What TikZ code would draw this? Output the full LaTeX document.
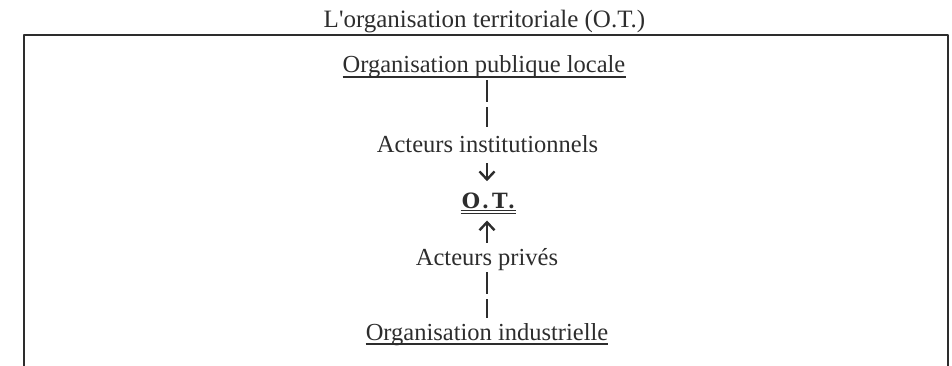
\documentclass[tikz,border=0pt]{standalone}
\usepackage{fontspec}
\setmainfont{Liberation Serif}
\newfontfamily\otfont[LetterSpace=14]{DejaVu Serif}
\usepackage{tikz}
\usetikzlibrary{calc}
\usetikzlibrary{arrows.meta}
\definecolor{ink}{RGB}{45,45,45}

\begin{document}
\begin{tikzpicture}[x=1pt, y=1pt, line join=bevel,
        txt/.style={inner sep=0pt, anchor=base, text=ink, font=\fontsize{24.5}{29}\selectfont},
        dashlink/.style={draw=ink, line width=2pt, dash pattern=on 22pt off 5pt},
        arrowlink/.style={draw=ink, line width=2.4pt, -{Straight Barb[length=8pt, width=15pt, line width=2.4pt]}}]
            \useasboundingbox (0,0) rectangle (952,-366);

            % frame, open at the bottom
            \draw [ink, line width=2pt] (24,-366) -- (24,-35) -- (948,-35) -- (948,-366);

            \node [txt, font=\fontsize{25}{30}\selectfont] (T1) at (484.5,-28) {L\textquotesingle organisation territoriale (O.T.)};
            \node [txt] (A1) at (484,-73) {Organisation publique locale};
            \node [txt] (A2) at (487.5,-153) {Acteurs institutionnels};
            \node [txt, font=\otfont\bfseries\fontsize{21}{26}\selectfont] (B1) at (488.5,-208) {O.T.};
            \node [txt] (C2) at (487,-265) {Acteurs privés};
            \node [txt] (C1) at (487,-340) {Organisation industrielle};

            % underlines
            \draw [ink, line width=1.2pt] ($(A1.base west)+(0,-4)$) -- ($(A1.base east)+(0,-4)$);
            \draw [ink, line width=1.2pt] ($(C1.base west)+(0,-4)$) -- ($(C1.base east)+(0,-4)$);
            \draw [ink, line width=1.2pt] ($(B1.base west)+(-1,-2.5)$) -- ($(B1.base east)+(1,-2.5)$);
            \draw [ink, line width=1.2pt] ($(B1.base west)+(-1,-5.5)$) -- ($(B1.base east)+(1,-5.5)$);

            \draw [dashlink, shorten <=2pt, shorten >=9pt] (A1.south -| 487,0) -- (A2.north -| 487,0);
            \draw [arrowlink, shorten <=10pt, shorten >=11pt] (A2.south -| 487,0) -- (B1.north -| 487,0);
            \draw [arrowlink, shorten <=5pt, shorten >=12pt] (C2.north -| 487,0) -- (B1.south -| 487,0);
            \draw [dashlink, shorten <=2pt, shorten >=5pt] (C2.south -| 487,0) -- (C1.north -| 487,0);
        \end{tikzpicture}
\end{document}
